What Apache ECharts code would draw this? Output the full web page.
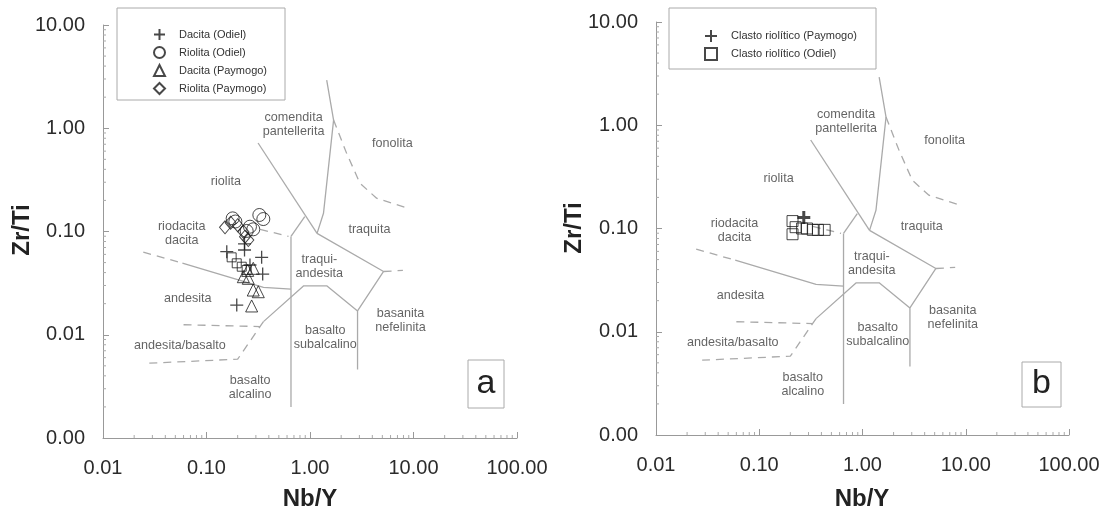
<!DOCTYPE html>
<html><head><meta charset="utf-8">
<script src="https://cdn.jsdelivr.net/npm/echarts@6/dist/echarts.min.js"></script>
<style>html,body{margin:0;padding:0;background:#fff}#c{width:1104px;height:513px}</style>
</head><body><div id="c"></div><script>
const F = 'Liberation Sans, Arial, sans-serif';
const xTickLabels = ['0.01','0.10','1.00','10.00','100.00'];
const yTickLabels = ['0.00','0.01','0.10','1.00','10.00'];

// Panel a data (Nb/Y, Zr/Ti)
const dacitaOdiel    = [[0.157,0.0637],[0.341,0.0562],[0.349,0.0387],[0.196,0.0194],[0.233,0.0662],[0.263,0.0474],[0.233,0.076]];
const riolitaOdiel   = [[0.179,0.134],[0.19,0.125],[0.324,0.1445],[0.354,0.132],[0.263,0.1113],[0.2445,0.1012],[0.283,0.105]];
const dacitaPaymogo  = [[0.227,0.0365],[0.2535,0.0352],[0.283,0.044],[0.283,0.0271],[0.3165,0.0261],[0.273,0.019],[0.25,0.042]];
const riolitaPaymogo = [[0.151,0.1098],[0.171,0.1217],[0.2355,0.089],[0.2535,0.0827],[0.227,0.0995],[0.2,0.115]];
const squaresA       = [[0.175,0.0562],[0.196,0.0492],[0.219,0.0456],[0.2445,0.0424]];
// Panel b data
const clastoPaymogo  = [[0.27,0.128]];
const clastoOdiel    = [[0.21,0.118],[0.21,0.088],[0.225,0.103],[0.26,0.100],[0.29,0.100],[0.33,0.097],[0.37,0.097],[0.43,0.097]];

// Field boundaries of the diagram
const solidBounds = [
  [[0.315,0.72],[1.17,0.096]],
  [[1.45,2.93],[1.69,1.2],[1.35,0.15],[1.17,0.096]],
  [[1.17,0.096],[5.14,0.041],[2.88,0.017],[2.88,0.0046]],
  [[2.88,0.017],[1.45,0.0298],[0.87,0.0298],[0.355,0.0134]],
  [[0.655,0.0895],[0.655,0.0020]],
  [[0.655,0.0895],[0.89,0.139]],
  [[0.0585,0.0494],[0.355,0.0287],[0.655,0.0277]]
];
const dashedBounds = [
  [[0.0245,0.063],[0.0585,0.0494]],
  [[0.33,0.105],[0.62,0.0895]],
  [[0.06,0.0125],[0.33,0.012]],
  [[0.355,0.0134],[0.2,0.0058],[0.028,0.0053]],
  [[1.69,1.2],[2.26,0.571],[3.04,0.293],[4.4,0.21],[8.9,0.168]],
  [[5.14,0.041],[7.9,0.042]]
];
const fieldLabels = [
  ['comendita\npantellerita',0.694,1.077],
  ['fonolita',6.25,0.716],
  ['riolita',0.154,0.305],
  ['riodacita\ndacita',0.0576,0.0964],
  ['traquita',3.75,0.1054],
  ['traqui-\nandesita',1.23,0.0458],
  ['andesita',0.0658,0.0226],
  ['basanita\nnefelinita',7.49,0.01377],
  ['basalto\nsubalcalino',1.406,0.0095],
  ['andesita/basalto',0.0554,0.00788],
  ['basalto\nalcalino',0.264,0.00305]
];
const minorMult = [2,3,4,5,6,7,8,9];
const xDecades = [0.01,0.1,1,10];
const yDecades = [0.001,0.01,0.1,1];

const plusPath = 'path://M0,6H12M6,0V12';

function xAx(g){return {type:'log',logBase:10,gridIndex:g,min:0.01,max:100,
  axisLine:{lineStyle:{color:'#999'}},axisTick:{inside:true,length:6,lineStyle:{color:'#999'}},
  splitLine:{show:false},
  axisLabel:{margin:20,fontSize:20,color:'#2b2b2b',fontFamily:F,
    formatter:v=>xTickLabels[Math.round(Math.log10(v))+2]}};}
function yAx(g){return {type:'log',logBase:10,gridIndex:g,min:0.001,max:10,
  axisLine:{lineStyle:{color:'#999'}},axisTick:{inside:true,length:6,lineStyle:{color:'#999'}},
  splitLine:{show:false},
  axisLabel:{margin:18,fontSize:20,color:'#2b2b2b',fontFamily:F,
    formatter:v=>yTickLabels[Math.round(Math.log10(v))+3]}};}

function boundarySeries(g){
  const s=[];
  solidBounds.forEach(b=>s.push({type:'line',xAxisIndex:g,yAxisIndex:g,data:b,showSymbol:false,symbol:'none',silent:true,
    lineStyle:{color:'#aaa',width:1.3},z:1}));
  dashedBounds.forEach(b=>s.push({type:'line',xAxisIndex:g,yAxisIndex:g,data:b,showSymbol:false,symbol:'none',silent:true,
    lineStyle:{color:'#aaa',width:1.3,type:[8,6]},z:1}));
  s.push({type:'scatter',xAxisIndex:g,yAxisIndex:g,silent:true,symbolSize:1,itemStyle:{color:'rgba(0,0,0,0)'},
    data:fieldLabels.map(l=>({name:l[0],value:[l[1],l[2]]})),
    label:{show:true,position:'inside',formatter:'{b}',fontSize:12.6,color:'#3c3c3c',fontFamily:F,lineHeight:14,align:'center'},z:2});
  const xm=[],ym=[];
  xDecades.forEach(d=>minorMult.forEach(m=>xm.push([m*d,0.001])));
  yDecades.forEach(d=>minorMult.forEach(m=>ym.push([0.01,m*d])));
  s.push({type:'custom',xAxisIndex:g,yAxisIndex:g,silent:true,clip:false,data:xm,
    renderItem:(p,api)=>{const c=api.coord([api.value(0),api.value(1)]);
      return {type:'line',shape:{x1:c[0],y1:c[1],x2:c[0],y2:c[1]-3},style:{stroke:'#aaa',lineWidth:1}};}});
  s.push({type:'custom',xAxisIndex:g,yAxisIndex:g,silent:true,clip:false,data:ym,
    renderItem:(p,api)=>{const c=api.coord([api.value(0),api.value(1)]);
      return {type:'line',shape:{x1:c[0],y1:c[1],x2:c[0]+3,y2:c[1]},style:{stroke:'#aaa',lineWidth:1}};}});
  return s;
}
function pts(name,g,data,symbol,size,bw){
  return {name:name,type:'scatter',xAxisIndex:g,yAxisIndex:g,data:data,symbol:symbol,symbolSize:size,z:5,
    itemStyle:{color:'rgba(0,0,0,0)',borderColor:'#1a1a1a',borderWidth:bw||1}};
}

const series = [].concat(boundarySeries(0),boundarySeries(1),[
  pts('Dacita (Odiel)',0,dacitaOdiel,plusPath,13,1.3),
  pts('Riolita (Odiel)',0,riolitaOdiel,'circle',13,1),
  pts('Dacita (Paymogo)',0,dacitaPaymogo,'triangle',12,1),
  pts('Riolita (Paymogo)',0,riolitaPaymogo,'diamond',[11,13],1),
  pts('sq',0,squaresA,'rect',9,1),
  pts('Clasto riolítico (Paymogo)',1,clastoPaymogo,plusPath,13,3),
  pts('Clasto riolítico (Odiel)',1,clastoOdiel,'rect',11,1)
]);

const chart = echarts.init(document.getElementById('c'),null,{renderer:'canvas'});
chart.setOption({
  animation:false,
  backgroundColor:'#fff',
  grid:[{left:103,top:25,width:414,height:413},{left:656,top:22,width:413,height:413}],
  xAxis:[xAx(0),xAx(1)],
  yAxis:[yAx(0),yAx(1)],
  legend:[
    {data:['Dacita (Odiel)','Riolita (Odiel)','Dacita (Paymogo)','Riolita (Paymogo)'],orient:'vertical',left:148,top:23,
     itemWidth:11,itemHeight:11,itemGap:5,selectedMode:false,textStyle:{fontSize:11,color:'#333',fontFamily:F,padding:[0,0,0,9]}},
    {data:['Clasto riolítico (Paymogo)','Clasto riolítico (Odiel)'],orient:'vertical',left:699,top:24,
     itemWidth:12,itemHeight:12,itemGap:4,selectedMode:false,textStyle:{fontSize:11,color:'#333',fontFamily:F,padding:[0,0,0,9]}}
  ],
  graphic:[
    {type:'rect',shape:{x:117,y:8,width:168,height:92},style:{fill:'none',stroke:'#aaa',lineWidth:1},z:0},
    {type:'rect',shape:{x:669,y:8,width:207,height:61},style:{fill:'none',stroke:'#aaa',lineWidth:1},z:0},
    {type:'rect',shape:{x:468,y:360,width:36,height:48},style:{fill:'none',stroke:'#aaa',lineWidth:1}},
    {type:'rect',shape:{x:1022,y:362,width:39,height:45},style:{fill:'none',stroke:'#aaa',lineWidth:1}},
    {type:'text',x:486,y:384,style:{text:'a',font:'34px '+F,fill:'#222',textAlign:'center',textVerticalAlign:'middle'}},
    {type:'text',x:1041.5,y:384,style:{text:'b',font:'34px '+F,fill:'#222',textAlign:'center',textVerticalAlign:'middle'}},
    {type:'text',x:310,y:499,style:{text:'Nb/Y',font:'bold 24px '+F,fill:'#222',textAlign:'center',textVerticalAlign:'middle'}},
    {type:'text',x:862,y:499,style:{text:'Nb/Y',font:'bold 24px '+F,fill:'#222',textAlign:'center',textVerticalAlign:'middle'}},
    {type:'text',x:22,y:230,rotation:Math.PI/2,style:{text:'Zr/Ti',font:'bold 24px '+F,fill:'#222',textAlign:'center',textVerticalAlign:'middle'}},
    {type:'text',x:574,y:228,rotation:Math.PI/2,style:{text:'Zr/Ti',font:'bold 24px '+F,fill:'#222',textAlign:'center',textVerticalAlign:'middle'}}
  ],
  series:series
});
</script></body></html>
